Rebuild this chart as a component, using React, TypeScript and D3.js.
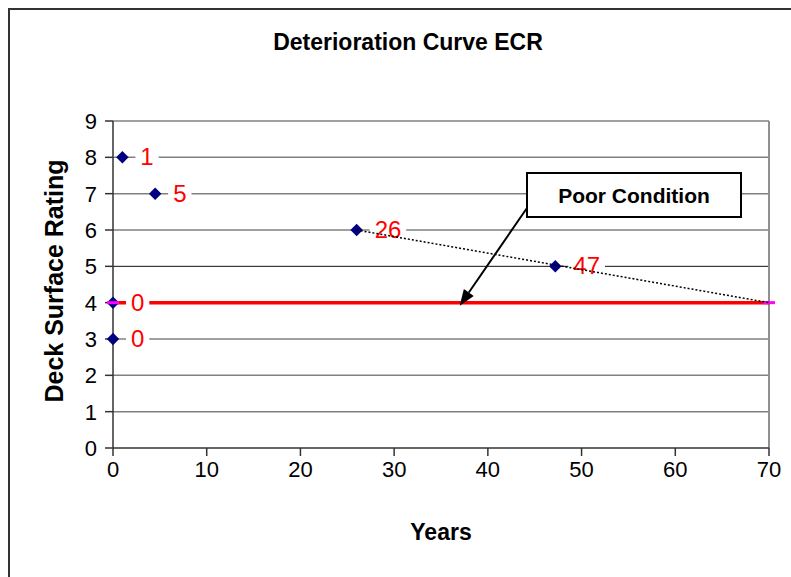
import React from 'react';
import * as d3 from 'd3';

// --- data ---
const pointYears = [1, 4.5, 0, 0, 26, 47.2];
const pointRatings = [8, 7, 4, 3, 6, 5];
const pointLabels = ['1', '5', '0', '0', '26', '47'];

const trendYears = [26, 70];
const trendRatings = [6, 4];

const poorYears = [0, 70];
const poorRatings = [4, 4];

const xTicks = [0, 10, 20, 30, 40, 50, 60, 70];
const yTicks = [0, 1, 2, 3, 4, 5, 6, 7, 8, 9];

const W = 791;
const H = 577;
const FONT = '"Liberation Sans", Arial, sans-serif';

const App: React.FC = () => {
    const x = d3.scaleLinear().domain([0, 70]).range([113, 769]);
    const y = d3.scaleLinear().domain([0, 9]).range([448, 121]);

    const line = d3.line<[number, number]>()
        .x(d => x(d[0]))
        .y(d => y(d[1]));

    const trend = line(trendYears.map((t, i) => [t, trendRatings[i]]));
    const poor = line(poorYears.map((t, i) => [t, poorRatings[i]]));
    const diamond = d3.symbol().type(d3.symbolDiamond2).size(100)();

    // callout box
    const box = { x: 527, y: 173, w: 214, h: 44 };
    const tip = { x: x(37), y: y(4) + 3 };
    const start = { x: box.x, y: box.y + 35 };
    const ang = Math.atan2(tip.y - start.y, tip.x - start.x);
    const aLen = 16, aHalf = 6;
    const bx = tip.x - aLen * Math.cos(ang), by = tip.y - aLen * Math.sin(ang);
    const head = [
        [tip.x, tip.y],
        [bx + aHalf * Math.sin(ang), by - aHalf * Math.cos(ang)],
        [bx - aHalf * Math.sin(ang), by + aHalf * Math.cos(ang)],
    ].map(p => p.join(',')).join(' ');

    return (
        <svg width={W} height={H} style={{ position: 'absolute', left: 0, top: 0, background: '#fff' }} fontFamily={FONT}>
            <rect x={9} y={9} width={W + 20} height={H + 20} fill="#fff" stroke="#333" strokeWidth={2} />

            <text x={408} y={50} textAnchor="middle" fontSize={23} fontWeight="bold">Deterioration Curve ECR</text>

            {/* gridlines */}
            {yTicks.filter(t => t > 0).map(t => (
                <line key={t} x1={x(0)} x2={x(70)} y1={y(t)} y2={y(t)}
                    stroke={t === 5 ? '#111' : '#808080'} strokeWidth={t === 5 ? 1 : 1.5} />
            ))}
            <line x1={x(70)} x2={x(70)} y1={y(9)} y2={y(0)} stroke="#909090" strokeWidth={2} />

            {/* axes */}
            <line x1={x(0)} x2={x(0)} y1={y(9)} y2={y(0)} stroke="#333" strokeWidth={1.5} />
            <line x1={x(0)} x2={x(70)} y1={y(0)} y2={y(0)} stroke="#333" strokeWidth={1.5} />
            {yTicks.map(t => (
                <g key={t}>
                    <line x1={x(0) - 8} x2={x(0)} y1={y(t)} y2={y(t)} stroke="#333" strokeWidth={1.5} />
                    <text x={97} y={y(t) + 8} textAnchor="end" fontSize={22}>{t}</text>
                </g>
            ))}
            {xTicks.map(t => (
                <g key={t}>
                    <line x1={x(t)} x2={x(t)} y1={y(0)} y2={y(0) + 8} stroke="#333" strokeWidth={1.5} />
                    <text x={x(t)} y={477} textAnchor="middle" fontSize={22}>{t}</text>
                </g>
            ))}

            <text x={441} y={540} textAnchor="middle" fontSize={23} fontWeight="bold">Years</text>
            <text transform={`translate(63,281) rotate(-90)`} textAnchor="middle" fontSize={25} fontWeight="bold">Deck Surface Rating</text>

            {/* poor condition threshold */}
            <path d={poor ?? ''} stroke="#ff0000" strokeWidth={3.5} fill="none" />

            {/* data points */}
            {pointYears.map((t, i) => (
                <path key={i} d={diamond ?? ''} transform={`translate(${x(t)},${y(pointRatings[i])})`} fill="#000080" />
            ))}

            {/* magenta dash markers */}
            {poorYears.map((t, i) => (
                <rect key={i} x={x(t) - 6} y={y(poorRatings[i]) - 1.5} width={12} height={3} fill="#ff00ff" />
            ))}

            {/* data labels */}
            {pointYears.map((t, i) => {
                const w = pointLabels[i].length * 13.3;
                const lx = x(t) + 18;
                const ly = y(pointRatings[i]);
                return (
                    <g key={i}>
                        <rect x={lx - 5} y={ly - 12} width={w + 10} height={24} fill="#fff" />
                        <text x={lx} y={ly + 8} fontSize={24} fill="#ff0000">{pointLabels[i]}</text>
                    </g>
                );
            })}

            {/* trend */}
            <path d={trend ?? ''} stroke="#000" strokeWidth={1.5} strokeDasharray="2,2" fill="none" />

            {/* callout */}
            <line x1={start.x} y1={start.y} x2={bx} y2={by} stroke="#000" strokeWidth={2} />
            <polygon points={head} fill="#000" />
            <rect x={box.x} y={box.y} width={box.w} height={box.h} fill="#fff" stroke="#000" strokeWidth={2} />
            <text x={box.x + box.w / 2} y={box.y + 30} textAnchor="middle" fontSize={21} fontWeight="bold">Poor Condition</text>
        </svg>
    );
};

export default App;
